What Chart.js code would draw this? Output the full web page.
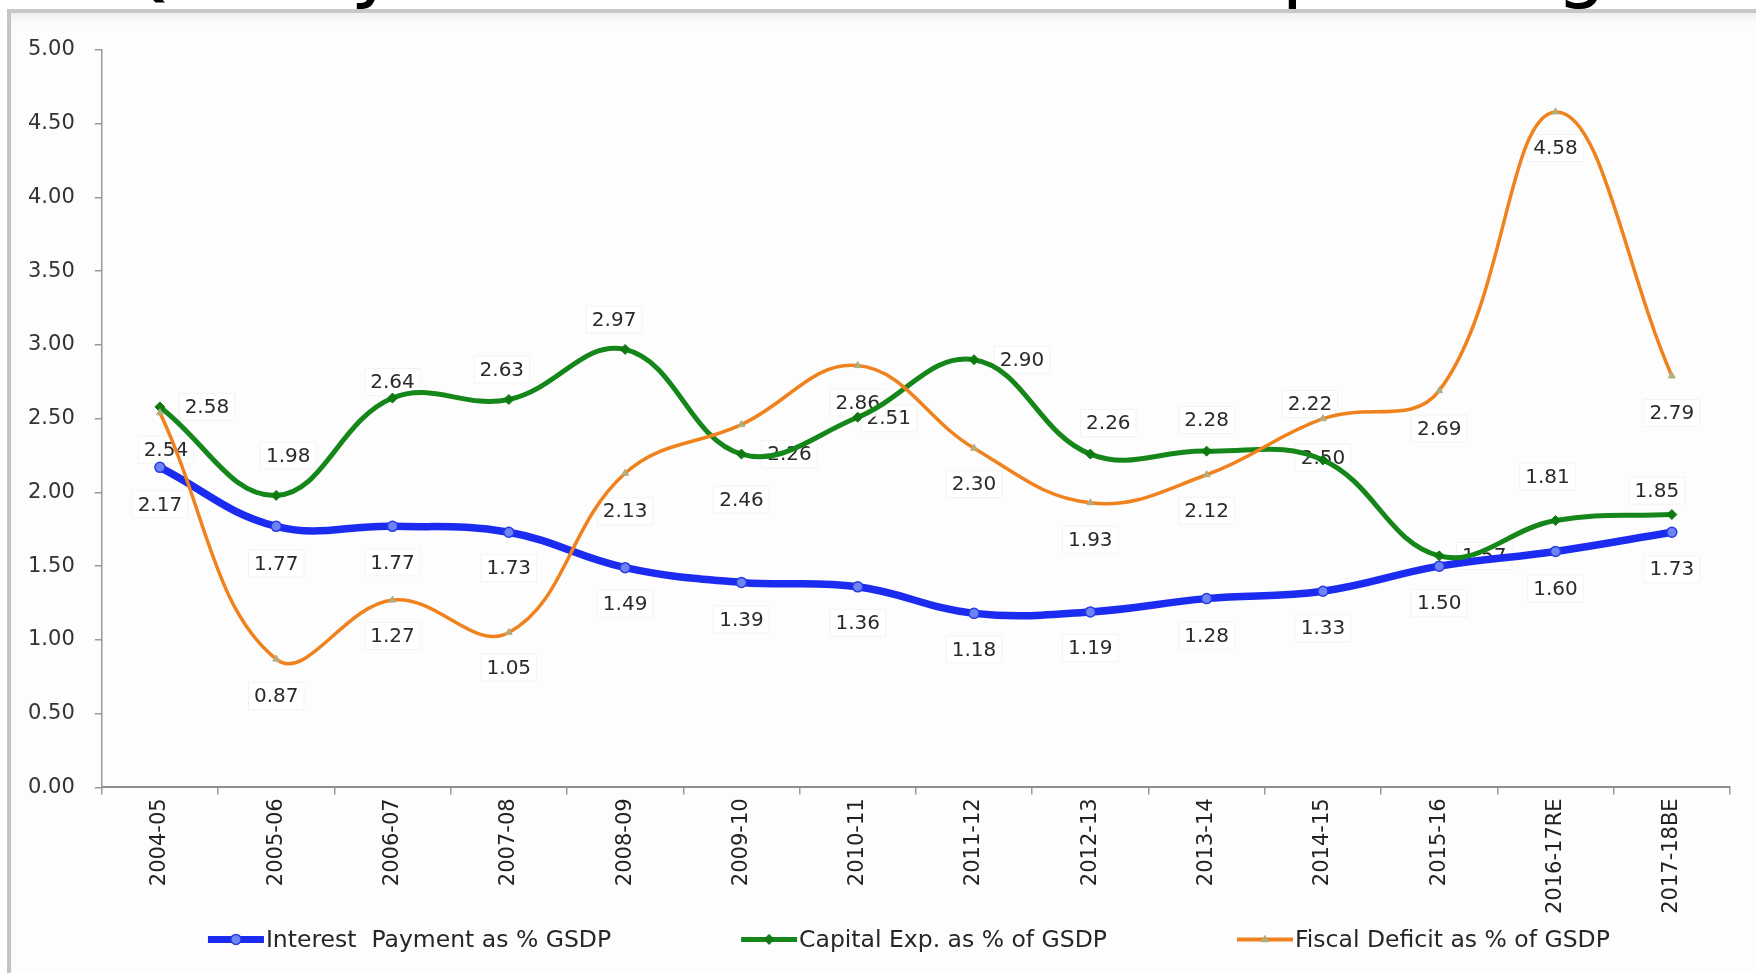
<!DOCTYPE html>
<html>
<head>
<meta charset="utf-8">
<script src="https://cdn.jsdelivr.net/npm/chart.js@4/dist/chart.umd.min.js"></script>
<style>
html, body { margin:0; padding:0; background:#fff; width:1756px; height:973px; overflow:hidden; }
#title { position:absolute; left:112px; top:-75px; font-family:"DejaVu Sans"; font-size:80px; line-height:1; color:#000; white-space:nowrap; }
#frame { position:absolute; left:7px; top:9px; width:1770px; height:990px; background:#fdfdfd;
  border-top:4px solid #c8c8c8; border-left:4px solid #c4c4c4;
  box-shadow: inset 0 8px 12px -4px rgba(0,0,0,0.07); }
#wrap { position:absolute; left:0; top:0; width:1756px; height:973px; }
</style>
</head>
<body>
<div id="title">Quality of Fiscal Deficit and Spending</div>
<div id="frame"></div>
<div id="wrap"><canvas id="c"></canvas></div>
<script>
// ---- data ----
const categories = ["2004-05","2005-06","2006-07","2007-08","2008-09","2009-10","2010-11","2011-12","2012-13","2013-14","2014-15","2015-16","2016-17RE","2017-18BE"];
const interestPct = [2.17, 1.77, 1.77, 1.73, 1.49, 1.39, 1.36, 1.18, 1.19, 1.28, 1.33, 1.50, 1.60, 1.73];
const capitalPct  = [2.58, 1.98, 2.64, 2.63, 2.97, 2.26, 2.51, 2.90, 2.26, 2.28, 2.22, 1.57, 1.81, 1.85];
const fiscalPct   = [2.54, 0.87, 1.27, 1.05, 2.13, 2.46, 2.86, 2.30, 1.93, 2.12, 2.50, 2.69, 4.58, 2.79];
const seriesLabels = ["Interest  Payment as % GSDP", "Capital Exp. as % of GSDP", "Fiscal Deficit as % of GSDP"];
const yTickValues = [0, 0.5, 1, 1.5, 2, 2.5, 3, 3.5, 4, 4.5, 5];

// ---- label placement (pixel offsets from each point) ----
const interestLabelDx = [0,0,0,0,0,0,0,0,0,0,0,0,0,0];
const interestLabelDy = [37,37,36,36,36,37,36,36,36,37,37,37,37,37];
const capitalLabelDx  = [47,12,0,-7,-11,48,31,48,18,0,-13,45,-8,-15];
const capitalLabelDy  = [0,-40,-16,-30,-30,0,1,0,-31,-31,-56,0,-44,-24];
const fiscalLabelDx   = [6,0,0,0,0,0,0,0,0,0,0,0,0,0];
const fiscalLabelDy   = [37,37,36,35,38,75,37,36,37,36,39,38,36,37];

const labelOffsets = [
  {dx: interestLabelDx, dy: interestLabelDy},
  {dx: capitalLabelDx, dy: capitalLabelDy},
  {dx: fiscalLabelDx, dy: fiscalLabelDy}
];

const FONT = '"DejaVu Sans", sans-serif';
const BLUE = '#1b2cf0', GREEN = '#15871a', ORANGE = '#f0821e';

const valueLabels = {
  id: 'valueLabels',
  beforeDatasetsDraw(chart) {
    const ctx = chart.ctx;
    ctx.save();
    ctx.font = '20px ' + FONT;
    ctx.textAlign = 'center';
    ctx.textBaseline = 'middle';
    chart.data.datasets.forEach((ds, di) => {
      const meta = chart.getDatasetMeta(di);
      const offs = labelOffsets[di];
      meta.data.forEach((pt, i) => {
        const txt = Number(ds.data[i]).toFixed(2);
        const x = pt.x + offs.dx[i], y = pt.y + offs.dy[i];
        const w = ctx.measureText(txt).width + 12, h = 28;
        ctx.fillStyle = 'rgba(255,255,255,0.92)';
        ctx.fillRect(x - w/2, y - h/2, w, h);
        ctx.strokeStyle = 'rgba(0,0,0,0.05)';
        ctx.lineWidth = 1;
        ctx.strokeRect(x - w/2 + 0.5, y - h/2 + 0.5, w - 1, h - 1);
        ctx.fillStyle = '#2a2a2a';
        ctx.fillText(txt, x, y + 1);
      });
    });
    ctx.restore();
  }
};

function drawMarker(ctx, style, x, y, r, fill, stroke, bw) {
  ctx.beginPath();
  if (style === 'triangle') {
    ctx.moveTo(x, y - r); ctx.lineTo(x + r*0.9, y + r*0.6); ctx.lineTo(x - r*0.9, y + r*0.6); ctx.closePath();
  } else if (style === 'rectRot') {
    ctx.moveTo(x, y - r); ctx.lineTo(x + r, y); ctx.lineTo(x, y + r); ctx.lineTo(x - r, y); ctx.closePath();
  } else {
    ctx.arc(x, y, r, 0, Math.PI*2);
  }
  ctx.fillStyle = fill; ctx.fill();
  if (bw) { ctx.lineWidth = bw; ctx.strokeStyle = stroke; ctx.stroke(); }
}

const lineLegend = {
  id: 'lineLegend',
  afterDraw(chart) {
    const ctx = chart.ctx;
    ctx.save();
    ctx.font = '23.5px ' + FONT;
    ctx.textBaseline = 'middle';
    ctx.textAlign = 'left';
    const iconW = 56, iconGap = 2, itemGap = 130;
    const dss = chart.data.datasets;
    const widths = dss.map(ds => iconW + iconGap + ctx.measureText(ds.label).width);
    const total = widths.reduce((a, b) => a + b, 0) + itemGap * (widths.length - 1);
    const ca = chart.chartArea;
    let x = (ca.left + ca.right) / 2 - 7 - total / 2;
    const y = ca.bottom + 152;
    dss.forEach((ds, i) => {
      ctx.beginPath();
      ctx.moveTo(x, y); ctx.lineTo(x + iconW, y);
      ctx.lineWidth = ds.legendLineWidth; ctx.strokeStyle = ds.borderColor; ctx.lineCap = 'butt';
      ctx.stroke();
      drawMarker(ctx, ds.pointStyle, x + iconW/2, y, ds.pointRadius, ds.pointBackgroundColor, ds.pointBorderColor, ds.pointBorderWidth);
      ctx.fillStyle = '#262626';
      ctx.fillText(ds.label, x + iconW + iconGap, y + 1);
      x += widths[i] + itemGap;
    });
    ctx.restore();
  }
};

new Chart(document.getElementById('c'), {
  type: 'line',
  data: {
    labels: categories,
    datasets: [
      { label: seriesLabels[0], data: interestPct, borderColor: BLUE, borderWidth: 7.5, legendLineWidth: 7,
        tension: 0.4, pointStyle: 'circle', pointRadius: 5, pointBackgroundColor: '#6d84f5',
        pointBorderColor: '#2a3be0', pointBorderWidth: 1.5, order: 3, fill: false },
      { label: seriesLabels[1], data: capitalPct, borderColor: GREEN, borderWidth: 5, legendLineWidth: 5,
        tension: 0.4, pointStyle: 'rectRot', pointRadius: 5, pointBackgroundColor: '#0f7a12',
        pointBorderColor: '#0f7a12', pointBorderWidth: 1, order: 2, fill: false },
      { label: seriesLabels[2], data: fiscalPct, borderColor: ORANGE, borderWidth: 3.5, legendLineWidth: 4,
        tension: 0.4, pointStyle: 'triangle', pointRadius: 4, pointBackgroundColor: '#b3ad7e',
        pointBorderColor: '#b3ad7e', pointBorderWidth: 1, order: 1, fill: false }
    ]
  },
  options: {
    responsive: true,
    maintainAspectRatio: false,
    animation: false,
    events: [],
    layout: { padding: { left: 8, right: 26, top: 50, bottom: 55 } },
    plugins: {
      legend: { display: false },
      tooltip: { enabled: false },
      title: { display: false }
    },
    scales: {
      x: {
        offset: true,
        grid: { display: true, drawOnChartArea: false, drawTicks: true, tickLength: 7, color: '#9a9a9a', lineWidth: 1.5, offset: true },
        border: { display: true, color: '#8f8f8f', width: 2 },
        ticks: { autoSkip: false, minRotation: 90, maxRotation: 90, padding: 4, color: '#222',
                 font: { family: FONT, size: 21 } }
      },
      y: {
        min: 0, max: 5,
        afterBuildTicks(axis) { axis.ticks = yTickValues.map(v => ({ value: v })); },
        grid: { display: true, drawOnChartArea: false, drawTicks: true, tickLength: 7, color: '#9a9a9a', lineWidth: 1.5 },
        border: { display: true, color: '#9a9a9a', width: 1.5 },
        ticks: { padding: 20, color: '#333', font: { family: FONT, size: 21 },
                 callback: (v) => Number(v).toFixed(2) }
      }
    }
  },
  plugins: [valueLabels, lineLegend]
});
</script>
</body>
</html>
